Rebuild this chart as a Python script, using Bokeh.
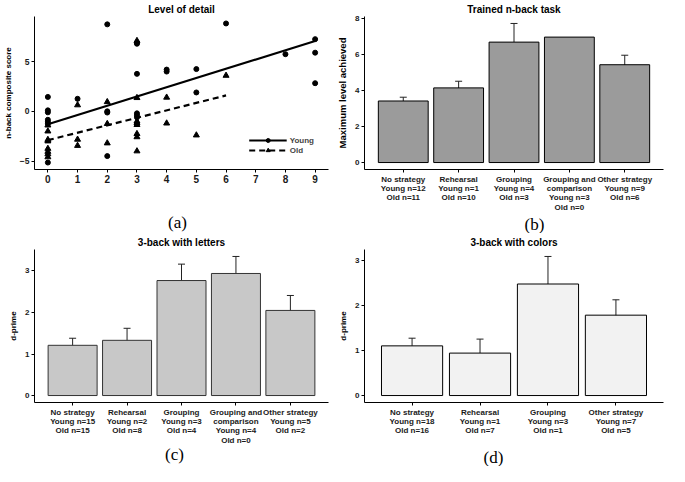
import numpy as np
from bokeh.plotting import figure
from bokeh.models import (ColumnDataSource, FactorRange, Range1d, Whisker, TeeHead,
                          Label, FixedTicker)
from bokeh.layouts import gridplot
from bokeh.embed import file_html
from bokeh.resources import INLINE

FONT = "Liberation Sans"
SERIF = "Liberation Serif"

# ---------------- Panel (a): Level of detail ----------------
young_x = [0, 0, 0, 0, 0, 0, 0, 1, 2, 2, 2, 2, 3, 3, 3, 3, 3, 3, 4, 4, 5, 5, 6, 8, 9, 9, 9]
young_y = [1.45, 0.1, -0.1, -0.85, -1.05, -1.25, -5.15, 1.26, 8.75, 0.0, -0.12, -4.5,
           6.9, 6.8, 3.77, -0.2, -0.4, -0.6, 4.2, 4.0, 4.25, 1.9, 8.84, 5.75, 7.26, 5.9, 2.83]
old_x = [0, 0, 0, 0, 0, 0, 0, 0, 1, 1, 1, 2, 2, 2, 3, 3, 3, 3, 3, 3, 3, 3, 4, 4, 5, 6]
old_y = [-1.4, -2.0, -2.85, -3.0, -3.75, -4.05, -4.3, -4.6, 0.63, -2.83, -3.45,
         0.95, -1.25, -3.2, 7.1, 1.36, -1.0, -1.15, -1.35, -2.26, -2.58, -4.0,
         1.4, -1.2, -2.4, 3.6]
young_fit = [-1.3, 0.93]   # intercept, slope
old_fit = [-2.9, 0.75]
x_ticks_a = [0, 1, 2, 3, 4, 5, 6, 7, 8, 9]
y_ticks_a = [-5, 0, 5]

# ---------------- Panel (b): Trained n-back task ----------------
cats_b = ["No strategy\nYoung n=12\nOld n=11", "Rehearsal\nYoung n=1\nOld n=10",
          "Grouping\nYoung n=4\nOld n=3", "Grouping and\ncomparison\nYoung n=3\nOld n=0",
          "Other strategy\nYoung n=9\nOld n=6"]
vals_b = [3.43, 4.16, 6.71, 6.99, 5.45]
low_b = [3.26, 3.82, 5.75, None, 4.97]
high_b = [3.64, 4.53, 7.75, None, 5.98]
y_ticks_b = [0, 2, 4, 6, 8]

# ---------------- Panel (c): 3-back with letters ----------------
cats_c = ["No strategy\nYoung n=15\nOld n=15", "Rehearsal\nYoung n=2\nOld n=8",
          "Grouping\nYoung n=3\nOld n=4", "Grouping and\ncomparison\nYoung n=4\nOld n=0",
          "Other strategy\nYoung n=5\nOld n=2"]
vals_c = [1.21, 1.33, 2.77, 2.94, 2.05]
low_c = [1.06, 1.055, 2.38, 2.555, 1.70]
high_c = [1.38, 1.62, 3.165, 3.35, 2.41]
y_ticks_c = [0, 1, 2, 3]

# ---------------- Panel (d): 3-back with colors ----------------
cats_d = ["No strategy\nYoung n=18\nOld n=16", "Rehearsal\nYoung n=1\nOld n=7",
          "Grouping\nYoung n=3\nOld n=1", "Other strategy\nYoung n=7\nOld n=5"]
vals_d = [1.10, 0.94, 2.47, 1.78]
low_d = [0.94, 0.65, 1.85, 1.46]
high_d = [1.27, 1.25, 3.08, 2.12]
y_ticks_d = [0, 1, 2, 3]

W1, W2, H = 334, 335, 233


def style(p, ylabel, ylabel_size="8px", xtick_size="8px", ytick_size="8px"):
    p.xgrid.visible = False
    p.ygrid.visible = False
    p.outline_line_color = None
    p.background_fill_color = "white"
    p.border_fill_color = "white"
    p.title.text_font = FONT
    p.title.text_font_size = "10px"
    p.title.text_font_style = "bold"
    p.title.align = "center"
    p.title.text_color = "black"
    p.title.standoff = 3
    for ax in p.axis:
        ax.axis_line_color = "black"
        ax.axis_line_width = 1
        ax.major_tick_line_color = "black"
        ax.major_tick_in = 0
        ax.major_tick_out = 3
        ax.minor_tick_line_color = None
        ax.major_label_text_font = FONT
        ax.major_label_text_font_style = "bold"
        ax.major_label_text_color = "#1a1a1a"
        ax.major_label_standoff = 2
        ax.major_label_text_line_height = 1.05
    p.xaxis.major_label_text_font_size = xtick_size
    p.yaxis.major_label_text_font_size = ytick_size
    p.yaxis.axis_label = ylabel
    p.yaxis.axis_label_text_font = FONT
    p.yaxis.axis_label_text_font_style = "bold"
    p.yaxis.axis_label_text_font_size = ylabel_size
    p.yaxis.axis_label_text_color = "black"
    p.yaxis.axis_label_standoff = 4


def panel_label(p, text, x, y):
    p.add_layout(Label(x=x, y=y, x_units="screen", y_units="screen", text=text,
                       text_font=SERIF, text_font_size="17px", text_align="center",
                       text_baseline="middle", text_color="black"), "below")


# ---- (a)
ya = np.array(young_y)
oa = np.array(old_y)
ymin = min(ya.min(), oa.min())
ymax = max(ya.max(), oa.max())
span = ymax - ymin
pa = figure(width=W1, height=H, title="Level of detail", output_backend="svg",
            toolbar_location=None, x_range=Range1d(-0.45, 9.45),
            y_range=Range1d(ymin - 0.05 * span, ymax + 0.05 * span),
            min_border_bottom=58, min_border_right=6, min_border_top=4)
style(pa, "n-back composite score", ylabel_size="8px", xtick_size="10px", ytick_size="8.5px")
pa.xaxis.ticker = FixedTicker(ticks=x_ticks_a)
pa.yaxis.ticker = FixedTicker(ticks=y_ticks_a)

yx = np.array([min(young_x), max(young_x)], dtype=float)
ox = np.array([min(old_x), max(old_x)], dtype=float)
pa.line(yx, young_fit[0] + young_fit[1] * yx, line_color="black", line_width=2.2,
        legend_label="Young")
pa.scatter(young_x, young_y, marker="circle", size=5, color="black", legend_label="Young")
pa.line(ox, old_fit[0] + old_fit[1] * ox, line_color="black", line_width=2.2,
        line_dash="6 4", legend_label="Old")
pa.scatter(old_x, old_y, marker="triangle", size=6, color="black", legend_label="Old")
lg = pa.legend[0]
lg.location = "bottom_right"
lg.background_fill_alpha = 0
lg.border_line_color = None
lg.glyph_width = 38
lg.glyph_height = 10
lg.label_text_font = FONT
lg.label_text_font_style = "bold"
lg.label_text_font_size = "8px"
lg.label_standoff = 3
lg.spacing = 0
lg.padding = 2
lg.margin = 14
panel_label(pa, "(a)", 143, -18)


def bar_panel(cats, vals, low, high, title, ylabel, yticks, fill, width,
              line_color="black", ylabel_size="8px", min_bottom=58):
    top = max([v for v in vals] + [h for h in high if h is not None])
    p = figure(width=width, height=H, title=title, output_backend="svg",
               toolbar_location=None,
               x_range=FactorRange(factors=cats, range_padding=0.2,
                                   range_padding_units="absolute"),
               y_range=Range1d(-0.05 * top, top * 1.05),
               min_border_bottom=min_bottom, min_border_right=6, min_border_top=4)
    style(p, ylabel, ylabel_size=ylabel_size)
    p.yaxis.ticker = FixedTicker(ticks=yticks)
    p.vbar(x=cats, top=vals, width=0.9, fill_color=fill, line_color=line_color,
           line_width=1)
    idx = [i for i in range(len(cats)) if low[i] is not None]
    src = ColumnDataSource(dict(x=[cats[i] for i in idx], lo=[low[i] for i in idx],
                                hi=[high[i] for i in idx]))
    p.add_layout(Whisker(base="x", lower="lo", upper="hi", source=src,
                         line_color="#222222", line_width=1,
                         upper_head=TeeHead(size=7, line_color="#222222", line_width=1),
                         lower_head=TeeHead(size=7, line_color="#222222", line_width=1)))
    return p


pb = bar_panel(cats_b, vals_b, low_b, high_b, "Trained n-back task",
               "Maximum level achieved", y_ticks_b, "#9b9b9b", W2, ylabel_size="9.5px")
panel_label(pb, "(b)", 170, 9)

pc = bar_panel(cats_c, vals_c, low_c, high_c, "3-back with letters", "d-prime",
               y_ticks_c, "#c8c8c8", W1, line_color="#333333", min_bottom=52)
panel_label(pc, "(c)", 140, 12)

pd_ = bar_panel(cats_d, vals_d, low_d, high_d, "3-back with colors", "d-prime",
                y_ticks_d, "#f2f2f2", W2, min_bottom=52)
panel_label(pd_, "(d)", 129, 0)

grid = gridplot([[pa, pb], [pc, pd_]], toolbar_location=None)

open("out.html", "w").write(file_html(grid, INLINE))
